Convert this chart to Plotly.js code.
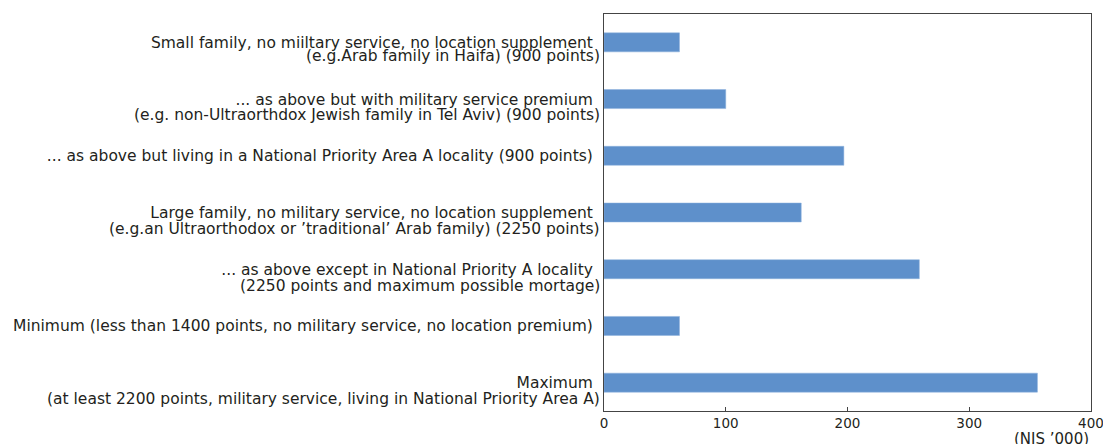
<!DOCTYPE html>
<html>
<head>
<meta charset="utf-8">
<script src="https://cdn.plot.ly/plotly-3.0.1.min.js"></script>
<style>html,body{margin:0;padding:0;background:#fff;}#chart{width:1103px;height:444px;}</style>
</head>
<body>
<div id="chart"></div>
<script>
// Data
var categories = [
  "Small family, no miiltary service, no location supplement",
  "... as above but with military service premium",
  "... as above but living in a National Priority Area A locality (900 points)",
  "Large family, no military service, no location supplement",
  "... as above except in National Priority A locality",
  "Minimum (less than 1400 points, no military service, no location premium)",
  "Maximum"
];
var subLines = [
  "(e.g.Arab family in Haifa) (900 points)",
  "(e.g. non-Ultraorthdox Jewish family in Tel Aviv) (900 points)",
  "",
  "(e.g.an Ultraorthodox or ’traditional’ Arab family) (2250 points)",
  "(2250 points and maximum possible mortage)",
  "",
  "(at least 2200 points, military service, living in National Priority Area A)"
];
var values = [62, 100, 197, 162, 259, 62, 356];
var xTicks = [0, 100, 200, 300, 400];
var unitLabel = "(NIS ’000)";

// Layout-only settings
var lineGap = [14, 16, 0, 16, 17, 0, 16];
var FONT = "DejaVu Sans, Verdana, sans-serif";
var TXT = "#231f20";
var LBL = 15.5;

var annotations = [];
categories.forEach(function (c, i) {
  if (subLines[i]) {
    annotations.push({
      xref: "paper", yref: "y", x: 0, y: c,
      xanchor: "right", yanchor: "middle",
      xshift: -2, yshift: -lineGap[i],
      text: subLines[i], showarrow: false,
      font: {family: FONT, size: LBL, color: TXT}
    });
  }
});
annotations.push({
  xref: "paper", yref: "paper", x: 1, y: 0,
  xanchor: "right", yanchor: "top", yshift: -17,
  text: unitLabel, showarrow: false,
  font: {family: FONT, size: 15, color: TXT}
});

var trace = {
  type: "bar", orientation: "h",
  x: values, y: categories,
  width: 0.335,
  marker: {color: "#5e90cb", line: {color: "#8cb1dc", width: 0.5}},
  hoverinfo: "x+y"
};

var layout = {
  width: 1103, height: 444,
  margin: {l: 604, r: 12, t: 14, b: 33},
  paper_bgcolor: "#fff", plot_bgcolor: "#fff",
  showlegend: false,
  font: {family: FONT, size: 14, color: TXT},
  xaxis: {
    range: [0, 400], tickvals: xTicks, ticktext: xTicks.map(String),
    ticks: "inside", ticklen: 4, tickcolor: "#444", tickwidth: 1,
    ticklabeloverflow: "allow",
    showgrid: false, zeroline: false,
    showline: true, linecolor: "#444", linewidth: 1, mirror: true,
    tickfont: {family: FONT, size: 13.5, color: TXT}
  },
  yaxis: {
    type: "category", autorange: "reversed",
    ticks: "", showgrid: false, zeroline: false,
    showline: true, linecolor: "#444", linewidth: 1, mirror: true,
    ticklabelstandoff: 7,
    tickfont: {family: FONT, size: LBL, color: TXT}
  },
  annotations: annotations
};

Plotly.newPlot("chart", [trace], layout, {displayModeBar: false, staticPlot: true});
</script>
</body>
</html>
